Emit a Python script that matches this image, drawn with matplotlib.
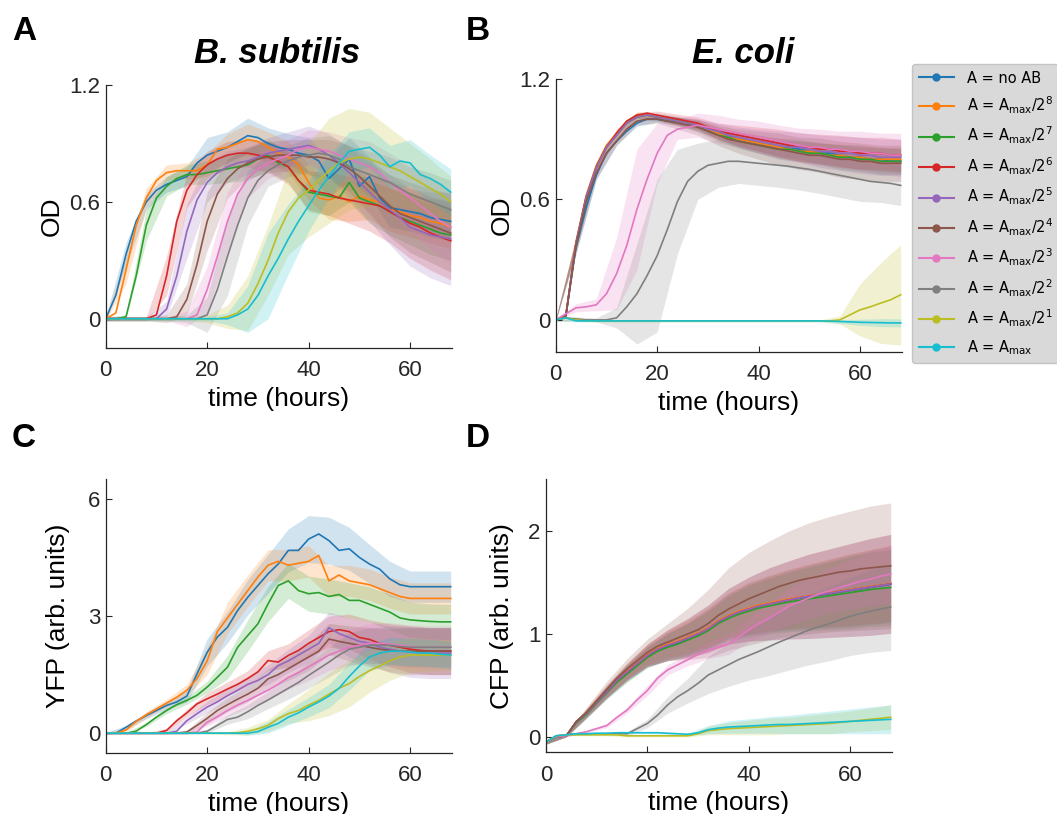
import numpy as np
import matplotlib
matplotlib.use("Agg")
import matplotlib.pyplot as plt
from matplotlib.lines import Line2D

plt.rcParams["font.family"] = ["Liberation Sans", "DejaVu Sans"]

# sample times (hours) of the mean curves and of the shaded spread
hours = [0, 2, 4, 6, 8, 10, 12, 14, 16, 18, 20, 22, 24, 26, 28, 30, 32, 34,
         36, 38, 40, 42, 44, 46, 48, 50, 52, 54, 56, 58, 60, 62, 64, 66, 68]
band_hours = [0, 4, 8, 12, 16, 20, 24, 28, 32, 36, 40, 44, 48, 52, 56, 60, 64, 68]

labels = ["A = no AB",
          "A = A$_{\\mathrm{max}}$/2$^{8}$", "A = A$_{\\mathrm{max}}$/2$^{7}$",
          "A = A$_{\\mathrm{max}}$/2$^{6}$", "A = A$_{\\mathrm{max}}$/2$^{5}$",
          "A = A$_{\\mathrm{max}}$/2$^{4}$", "A = A$_{\\mathrm{max}}$/2$^{3}$",
          "A = A$_{\\mathrm{max}}$/2$^{2}$", "A = A$_{\\mathrm{max}}$/2$^{1}$",
          "A = A$_{\\mathrm{max}}$"]
colors = ["#1f77b4", "#ff7f0e", "#2ca02c", "#d62728", "#9467bd",
          "#8c564b", "#e377c2", "#7f7f7f", "#bcbd22", "#17becf"]

### A: OD, B. subtilis
od_bsub = [
    [0.00,0.12,0.33,0.50,0.60, 0.66,0.69,0.71,0.73,0.80, 0.84,0.86,0.88,0.91,0.94, 0.93,0.90,0.88,0.87,0.85, 0.84,0.81,0.72,0.77,0.82, 0.68,0.73,0.62,0.57,0.56, 0.55,0.54,0.52,0.51,0.50],
    [0.00,0.03,0.25,0.48,0.62, 0.71,0.75,0.76,0.76,0.76, 0.79,0.87,0.88,0.90,0.92, 0.91,0.88,0.85,0.83,0.79, 0.70,0.62,0.61,0.63,0.60, 0.63,0.61,0.60,0.56,0.55, 0.53,0.52,0.50,0.49,0.47],
    [0.00,0.00,0.01,0.22,0.48, 0.62,0.68,0.72,0.74,0.74, 0.75,0.76,0.77,0.78,0.79, 0.82,0.84,0.80,0.78,0.71, 0.65,0.64,0.63,0.62,0.70, 0.62,0.60,0.58,0.55,0.52, 0.50,0.48,0.46,0.44,0.43],
    [0.00,0.00,0.00,0.00,0.00, 0.02,0.22,0.50,0.66,0.74, 0.79,0.82,0.84,0.85,0.85, 0.84,0.83,0.81,0.78,0.71, 0.66,0.65,0.64,0.62,0.61, 0.60,0.59,0.58,0.55,0.52, 0.49,0.47,0.44,0.42,0.40],
    [0.00,0.00,0.00,0.00,0.00, 0.00,0.05,0.22,0.45,0.61, 0.70,0.75,0.78,0.80,0.81, 0.83,0.85,0.86,0.87,0.88, 0.89,0.87,0.84,0.80,0.75, 0.70,0.65,0.60,0.56,0.52, 0.47,0.45,0.43,0.42,0.41],
    [0.00,0.00,0.00,0.00,0.00, 0.00,0.00,0.01,0.10,0.28, 0.50,0.64,0.72,0.77,0.80, 0.82,0.83,0.84,0.84,0.84, 0.83,0.83,0.82,0.80,0.77, 0.73,0.68,0.63,0.58,0.54, 0.52,0.50,0.48,0.46,0.44],
    [0.00,0.00,0.00,0.00,0.00, 0.00,0.00,0.00,0.00,0.02, 0.15,0.32,0.50,0.64,0.72, 0.77,0.80,0.82,0.84,0.87, 0.88,0.87,0.86,0.84,0.82, 0.80,0.78,0.75,0.70,0.66, 0.62,0.58,0.54,0.50,0.47],
    [0.00,0.00,0.00,0.00,0.00, 0.00,0.00,0.00,0.00,0.00, 0.02,0.15,0.32,0.48,0.62, 0.71,0.76,0.79,0.81,0.83, 0.84,0.85,0.84,0.82,0.78, 0.76,0.74,0.72,0.70,0.67, 0.64,0.62,0.60,0.58,0.56],
    [0.00,0.00,0.00,0.00,0.00, 0.00,0.00,0.00,0.00,0.00, 0.00,0.00,0.01,0.03,0.08, 0.18,0.30,0.44,0.55,0.62, 0.66,0.71,0.76,0.80,0.82, 0.83,0.82,0.80,0.78,0.76, 0.73,0.70,0.67,0.64,0.60],
    [0.00,0.00,0.00,0.00,0.00, 0.00,0.00,0.00,0.00,0.00, 0.00,0.00,0.00,0.02,0.05, 0.12,0.22,0.31,0.41,0.50, 0.58,0.66,0.73,0.80,0.86, 0.87,0.88,0.84,0.78,0.81, 0.80,0.74,0.72,0.69,0.65],
]
od_bsub_sd = [
    [0.01,0.06,0.04,0.04,0.05,0.09,0.08,0.09,0.08,0.08,0.09,0.10,0.11,0.10,0.10,0.10,0.10,0.10],
    [0.01,0.07,0.05,0.04,0.04,0.06,0.07,0.08,0.08,0.08,0.09,0.10,0.10,0.10,0.11,0.11,0.11,0.11],
    [0.01,0.01,0.08,0.05,0.05,0.06,0.07,0.08,0.08,0.08,0.10,0.10,0.10,0.11,0.12,0.12,0.13,0.13],
    [0.01,0.01,0.01,0.10,0.09,0.07,0.07,0.07,0.08,0.09,0.10,0.11,0.12,0.14,0.16,0.18,0.19,0.20],
    [0.01,0.01,0.01,0.04,0.14,0.10,0.08,0.07,0.08,0.09,0.10,0.11,0.13,0.15,0.18,0.20,0.22,0.24],
    [0.01,0.01,0.01,0.02,0.08,0.15,0.10,0.08,0.08,0.08,0.09,0.10,0.12,0.14,0.16,0.18,0.19,0.20],
    [0.01,0.01,0.01,0.01,0.04,0.12,0.15,0.10,0.08,0.08,0.09,0.10,0.11,0.13,0.15,0.17,0.18,0.19],
    [0.01,0.01,0.01,0.01,0.02,0.09,0.20,0.14,0.08,0.08,0.09,0.10,0.11,0.12,0.13,0.14,0.15,0.15],
    [0.01,0.01,0.01,0.01,0.01,0.02,0.06,0.14,0.18,0.22,0.24,0.27,0.26,0.24,0.20,0.17,0.15,0.13],
    [0.01,0.01,0.01,0.01,0.01,0.01,0.03,0.12,0.22,0.18,0.13,0.11,0.10,0.10,0.11,0.12,0.12,0.12],
]

### B: OD, E. coli
od_ecoli = [
    [0.00,0.02,0.36,0.56,0.72, 0.83,0.89,0.94,0.98,1.00, 1.00,0.99,0.99,0.98,0.97, 0.95,0.93,0.92,0.90,0.89, 0.88,0.87,0.86,0.86,0.85, 0.84,0.83,0.83,0.82,0.81, 0.81,0.80,0.80,0.79,0.79],
    [0.00,0.02,0.39,0.62,0.77, 0.87,0.93,0.99,1.02,1.02, 1.01,1.00,0.99,0.98,0.97, 0.95,0.93,0.91,0.90,0.89, 0.88,0.87,0.86,0.85,0.84, 0.84,0.83,0.82,0.82,0.81, 0.81,0.80,0.80,0.80,0.80],
    [0.00,0.02,0.38,0.61,0.76, 0.86,0.92,0.98,1.01,1.02, 1.01,1.00,0.99,0.98,0.96, 0.94,0.92,0.91,0.89,0.88, 0.87,0.86,0.85,0.85,0.84, 0.83,0.83,0.82,0.81,0.81, 0.80,0.80,0.79,0.79,0.79],
    [0.00,0.02,0.38,0.61,0.76, 0.86,0.93,0.99,1.02,1.03, 1.02,1.01,1.00,0.99,0.98, 0.96,0.94,0.93,0.92,0.91, 0.90,0.89,0.88,0.87,0.86, 0.86,0.85,0.85,0.84,0.84, 0.83,0.83,0.83,0.82,0.82],
    [0.00,0.02,0.38,0.61,0.76, 0.86,0.92,0.98,1.01,1.02, 1.01,1.00,0.99,0.98,0.97, 0.95,0.94,0.92,0.91,0.90, 0.89,0.88,0.87,0.86,0.86, 0.85,0.84,0.84,0.83,0.83, 0.82,0.82,0.81,0.81,0.81],
    [0.00,0.02,0.37,0.59,0.73, 0.83,0.89,0.95,0.99,1.00, 1.00,0.99,0.98,0.97,0.96, 0.94,0.92,0.90,0.89,0.88, 0.87,0.86,0.85,0.84,0.83, 0.82,0.82,0.81,0.80,0.80, 0.79,0.79,0.78,0.78,0.78],
    [0.00,0.03,0.06,0.065,0.075, 0.13,0.23,0.37,0.55,0.70, 0.83,0.92,0.95,0.96,0.97, 0.96,0.95,0.94,0.93,0.92, 0.91,0.90,0.89,0.88,0.87, 0.86,0.86,0.85,0.85,0.84, 0.84,0.83,0.83,0.82,0.82],
    [0.00,0.01,0.005,0.00,0.00, 0.00,0.01,0.065,0.13,0.22, 0.32,0.45,0.59,0.69,0.74, 0.77,0.78,0.79,0.79,0.785, 0.78,0.775,0.77,0.765,0.757, 0.75,0.74,0.73,0.72,0.71, 0.70,0.69,0.685,0.68,0.67],
    [0.00,0.01,0.00,-0.005,-0.005, -0.005,-0.005,-0.005,-0.005,-0.005, -0.005,-0.005,-0.005,-0.005,-0.005, -0.005,-0.005,-0.005,-0.005,-0.005, -0.005,-0.005,-0.005,-0.005,-0.005, -0.005,-0.005,-0.005,0.00,0.025, 0.05,0.065,0.083,0.10,0.125],
    [0.00,0.01,-0.005,-0.005,-0.005, -0.005,-0.005,-0.005,-0.005,-0.005, -0.005,-0.005,-0.005,-0.005,-0.005, -0.005,-0.005,-0.005,-0.005,-0.005, -0.005,-0.005,-0.005,-0.005,-0.005, -0.005,-0.005,-0.006,-0.008,-0.01, -0.012,-0.013,-0.014,-0.015,-0.015],
]
od_ecoli_sd = [
    [0.005,0.03,0.02,0.02,0.015,0.015,0.02,0.025,0.03,0.035,0.04,0.045,0.05,0.05,0.055,0.06,0.06,0.06],
    [0.005,0.03,0.02,0.02,0.015,0.015,0.02,0.025,0.03,0.035,0.04,0.045,0.05,0.05,0.055,0.06,0.06,0.06],
    [0.005,0.03,0.02,0.02,0.015,0.015,0.02,0.025,0.03,0.035,0.04,0.045,0.05,0.055,0.06,0.06,0.065,0.065],
    [0.005,0.03,0.02,0.02,0.015,0.02,0.025,0.03,0.04,0.05,0.06,0.07,0.07,0.075,0.08,0.08,0.08,0.08],
    [0.005,0.03,0.02,0.02,0.015,0.02,0.025,0.03,0.04,0.05,0.06,0.07,0.075,0.08,0.085,0.09,0.09,0.09],
    [0.005,0.04,0.03,0.02,0.02,0.02,0.03,0.04,0.05,0.06,0.07,0.08,0.08,0.085,0.09,0.09,0.09,0.09],
    [0.005,0.02,0.03,0.18,0.30,0.15,0.05,0.06,0.07,0.07,0.08,0.08,0.085,0.09,0.09,0.10,0.10,0.11],
    [0.005,0.01,0.01,0.05,0.25,0.38,0.26,0.14,0.12,0.11,0.11,0.11,0.11,0.11,0.11,0.11,0.10,0.10],
    [0.005,0.005,0.005,0.005,0.005,0.005,0.005,0.005,0.005,0.005,0.005,0.005,0.005,0.005,0.02,0.13,0.20,0.25],
    [0.005,0.005,0.005,0.005,0.005,0.005,0.005,0.005,0.005,0.005,0.005,0.005,0.005,0.005,0.01,0.015,0.02,0.02],
]

### C: YFP, B. subtilis
yfp_bsub = [
    [0.00,0.00,0.15,0.31,0.45, 0.58,0.71,0.80,0.95,1.52, 2.07,2.46,2.71,3.14,3.48, 3.78,4.08,4.33,4.68,4.68, 4.97,5.10,4.93,4.68,4.72, 4.50,4.33,4.20,3.95,3.80, 3.75,3.75,3.75,3.75,3.75],
    [0.00,0.00,0.08,0.30,0.47, 0.62,0.77,0.92,1.10,1.40, 1.85,2.60,2.95,3.30,3.65, 4.00,4.30,4.40,4.30,4.35, 4.40,4.55,3.90,4.05,3.90, 3.85,3.80,3.70,3.60,3.50, 3.45,3.45,3.45,3.45,3.45],
    [0.00,0.00,0.00,0.05,0.22, 0.41,0.58,0.73,0.84,0.97, 1.18,1.43,1.69,2.20,2.50, 2.80,3.31,3.78,3.90,3.65, 3.57,3.60,3.50,3.55,3.40, 3.40,3.30,3.20,3.10,2.95, 2.90,2.88,2.86,2.85,2.85],
    [0.00,0.00,0.00,0.00,0.00, 0.00,0.07,0.32,0.52,0.75, 0.88,1.00,1.13,1.25,1.40, 1.57,1.86,1.82,1.99,2.12, 2.30,2.45,2.60,2.65,2.60, 2.45,2.40,2.30,2.25,2.20, 2.15,2.12,2.10,2.10,2.10],
    [0.00,0.00,0.00,0.00,0.00, 0.00,0.00,0.05,0.32,0.50, 0.67,0.80,0.96,1.10,1.25, 1.35,1.50,1.73,1.85,2.00, 2.15,2.30,2.70,2.55,2.45, 2.35,2.30,2.20,2.15,2.10, 2.08,2.06,2.05,2.05,2.05],
    [0.00,0.00,0.00,0.00,0.00, 0.00,0.00,0.00,0.03,0.20, 0.38,0.58,0.73,0.87,1.00, 1.15,1.39,1.50,1.65,1.80, 1.95,2.10,2.41,2.35,2.30, 2.25,2.20,2.15,2.12,2.10, 2.10,2.10,2.10,2.10,2.10],
    [0.00,0.00,0.00,0.00,0.00, 0.00,0.00,0.00,0.00,0.03, 0.28,0.42,0.58,0.72,0.84, 0.97,1.10,1.25,1.43,1.55, 1.70,1.85,2.00,2.10,2.20, 2.25,2.30,2.30,2.28,2.25, 2.22,2.20,2.20,2.20,2.20],
    [0.00,0.00,0.00,0.00,0.00, 0.00,0.00,0.00,0.00,0.00, 0.05,0.20,0.35,0.41,0.55, 0.71,0.85,1.00,1.15,1.30, 1.48,1.65,1.82,2.00,2.15, 2.20,2.25,2.25,2.25,2.22, 2.20,2.20,2.20,2.20,2.20],
    [0.00,0.00,0.00,0.00,0.00, 0.00,0.00,0.00,0.00,0.00, 0.00,0.00,0.00,0.01,0.05, 0.11,0.20,0.37,0.50,0.58, 0.72,0.84,1.00,1.15,1.27, 1.45,1.60,1.72,1.85,1.95, 2.00,2.00,2.00,2.00,2.00],
    [0.00,0.00,0.00,0.00,0.00, 0.00,0.00,0.00,0.00,0.00, 0.00,0.00,0.00,0.00,0.00, 0.04,0.15,0.25,0.41,0.52, 0.67,0.80,0.95,1.15,1.45, 1.72,1.95,2.05,2.10,2.10, 2.08,2.05,2.05,2.02,2.00],
]
yfp_bsub_sd = [
    [0.02,0.05,0.08,0.10,0.15,0.35,0.40,0.45,0.50,0.55,0.60,0.60,0.55,0.50,0.45,0.40,0.40,0.40],
    [0.02,0.05,0.08,0.10,0.15,0.35,0.40,0.40,0.40,0.40,0.40,0.40,0.40,0.40,0.40,0.40,0.40,0.40],
    [0.02,0.02,0.05,0.08,0.10,0.15,0.30,0.40,0.45,0.45,0.45,0.45,0.45,0.45,0.45,0.45,0.45,0.45],
    [0.02,0.02,0.02,0.05,0.10,0.15,0.18,0.20,0.25,0.30,0.35,0.40,0.45,0.50,0.55,0.60,0.60,0.60],
    [0.02,0.02,0.02,0.03,0.08,0.15,0.18,0.20,0.25,0.30,0.35,0.40,0.50,0.55,0.60,0.65,0.65,0.65],
    [0.02,0.02,0.02,0.02,0.05,0.15,0.18,0.20,0.25,0.30,0.35,0.40,0.45,0.50,0.55,0.60,0.60,0.60],
    [0.02,0.02,0.02,0.02,0.02,0.10,0.15,0.20,0.25,0.30,0.35,0.40,0.45,0.50,0.55,0.55,0.55,0.55],
    [0.02,0.02,0.02,0.02,0.02,0.05,0.12,0.18,0.22,0.28,0.33,0.38,0.42,0.45,0.48,0.50,0.50,0.50],
    [0.02,0.02,0.02,0.02,0.02,0.02,0.04,0.10,0.15,0.25,0.40,0.55,0.60,0.55,0.50,0.45,0.40,0.40],
    [0.02,0.02,0.02,0.02,0.02,0.02,0.02,0.05,0.15,0.20,0.25,0.30,0.35,0.35,0.35,0.35,0.35,0.35],
]

### D: CFP, E. coli
cfp_ecoli = [
    [-0.05,0.00,0.01,0.14,0.22, 0.33,0.43,0.54,0.62,0.70, 0.78,0.84,0.88,0.91,0.95, 1.00,1.05,1.12,1.17,1.21, 1.24,1.27,1.29,1.31,1.33, 1.345,1.36,1.375,1.39,1.405, 1.42,1.435,1.45,1.465,1.48],
    [-0.05,0.00,0.01,0.15,0.24, 0.35,0.45,0.56,0.64,0.72, 0.80,0.86,0.90,0.93,0.97, 1.01,1.06,1.13,1.18,1.22, 1.25,1.28,1.30,1.32,1.34, 1.355,1.37,1.385,1.40,1.415, 1.43,1.445,1.46,1.475,1.49],
    [-0.05,0.00,0.01,0.14,0.22, 0.33,0.43,0.53,0.61,0.69, 0.77,0.83,0.87,0.90,0.94, 0.98,1.03,1.10,1.15,1.19, 1.22,1.25,1.27,1.29,1.31, 1.325,1.34,1.355,1.37,1.385, 1.40,1.415,1.43,1.44,1.45],
    [-0.05,0.00,0.01,0.15,0.23, 0.34,0.44,0.55,0.63,0.71, 0.79,0.85,0.89,0.92,0.96, 1.00,1.05,1.12,1.17,1.21, 1.24,1.27,1.29,1.31,1.33, 1.35,1.365,1.38,1.395,1.41, 1.425,1.44,1.455,1.47,1.485],
    [-0.05,0.00,0.01,0.15,0.23, 0.34,0.44,0.55,0.63,0.71, 0.79,0.85,0.89,0.92,0.96, 1.00,1.05,1.12,1.17,1.21, 1.24,1.27,1.29,1.31,1.33, 1.35,1.365,1.38,1.395,1.41, 1.425,1.44,1.455,1.47,1.485],
    [-0.05,0.00,0.01,0.15,0.24, 0.35,0.46,0.57,0.66,0.74, 0.82,0.88,0.92,0.96,1.00, 1.04,1.10,1.18,1.24,1.29, 1.34,1.38,1.42,1.46,1.49, 1.52,1.54,1.56,1.58,1.60, 1.61,1.63,1.64,1.65,1.66],
    [-0.05,0.00,0.01,0.03,0.05, 0.08,0.11,0.19,0.26,0.36, 0.45,0.57,0.65,0.70,0.75, 0.80,0.84,0.87,0.90,0.97, 1.04,1.10,1.15,1.21,1.27, 1.31,1.35,1.39,1.42,1.45, 1.48,1.51,1.53,1.56,1.58],
    [-0.05,0.01,0.02,0.03,0.03, 0.03,0.03,0.03,0.03,0.08, 0.13,0.21,0.31,0.39,0.45, 0.52,0.60,0.65,0.70,0.75, 0.79,0.83,0.875,0.92,0.96, 1.00,1.04,1.07,1.10,1.135, 1.17,1.195,1.22,1.24,1.26],
    [-0.05,0.01,0.02,0.02,0.02, 0.02,0.02,0.02,0.01,0.01, 0.01,0.01,0.01,0.01,0.01, 0.03,0.06,0.07,0.08,0.085, 0.09,0.095,0.10,0.105,0.11, 0.115,0.12,0.125,0.13,0.14, 0.15,0.16,0.17,0.18,0.19],
    [-0.05,0.01,0.02,0.03,0.03, 0.035,0.035,0.04,0.04,0.04, 0.04,0.04,0.035,0.03,0.025, 0.04,0.07,0.085,0.095,0.10, 0.105,0.11,0.115,0.12,0.12, 0.125,0.13,0.135,0.14,0.145, 0.15,0.155,0.16,0.165,0.17],
]
cfp_ecoli_sd = [
    [0.02,0.01,0.04,0.06,0.08,0.10,0.13,0.16,0.19,0.22,0.25,0.27,0.29,0.31,0.33,0.35,0.36,0.37],
    [0.02,0.01,0.04,0.06,0.08,0.10,0.13,0.16,0.19,0.22,0.25,0.27,0.29,0.31,0.33,0.35,0.36,0.37],
    [0.02,0.01,0.04,0.06,0.08,0.10,0.13,0.16,0.19,0.22,0.25,0.27,0.29,0.31,0.33,0.35,0.36,0.37],
    [0.02,0.01,0.04,0.06,0.08,0.11,0.15,0.19,0.23,0.27,0.31,0.35,0.38,0.41,0.43,0.45,0.47,0.48],
    [0.02,0.01,0.04,0.06,0.08,0.11,0.15,0.19,0.23,0.27,0.31,0.35,0.38,0.41,0.43,0.45,0.47,0.48],
    [0.02,0.01,0.05,0.08,0.10,0.13,0.18,0.25,0.33,0.40,0.45,0.48,0.51,0.54,0.56,0.58,0.60,0.61],
    [0.02,0.01,0.01,0.02,0.03,0.05,0.05,0.06,0.08,0.10,0.12,0.15,0.18,0.20,0.22,0.24,0.26,0.28],
    [0.02,0.01,0.01,0.01,0.02,0.04,0.08,0.12,0.18,0.21,0.24,0.28,0.31,0.34,0.36,0.38,0.40,0.42],
    [0.02,0.01,0.01,0.01,0.01,0.01,0.01,0.01,0.04,0.06,0.07,0.08,0.08,0.09,0.10,0.10,0.11,0.12],
    [0.02,0.01,0.01,0.01,0.01,0.01,0.01,0.01,0.04,0.06,0.07,0.08,0.09,0.10,0.11,0.12,0.13,0.14],
]

W, H = 1057, 814
fig = plt.figure(figsize=(W / 100, H / 100), dpi=100)
dark = "#262626"


def px_axes(left, right, top, bottom):
    return fig.add_axes([left / W, 1 - bottom / H, (right - left) / W, (bottom - top) / H])


def panel(ax, means, sds, ylim, yticks, yticklabels, ylabel, ypad):
    for mean, sd, c in zip(means, sds, colors):
        m = np.array(mean)[::2]
        s = np.array(sd)
        ax.fill_between(band_hours, m - s, m + s, color=c, alpha=0.2, lw=0)
        ax.plot(hours, mean, color=c, lw=1.2)
    ax.set_xlim(0, 68.2)
    ax.set_ylim(*ylim)
    ax.set_xticks([0, 20, 40, 60])
    ax.set_yticks(yticks)
    ax.set_yticklabels(yticklabels)
    for side in ["top", "right"]:
        ax.spines[side].set_visible(False)
    for side in ["left", "bottom"]:
        ax.spines[side].set_color(dark)
        ax.spines[side].set_linewidth(0.9)
    ax.tick_params(direction="in", length=4, width=0.8, colors=dark, labelsize=16)
    ax.tick_params(axis="x", pad=9)
    ax.tick_params(axis="y", pad=4)
    ax.set_xlabel("time (hours)", fontsize=19, labelpad=4)
    ax.set_ylabel(ylabel, fontsize=19, labelpad=ypad)


axA = px_axes(105.7, 451.7, 85, 348)
panel(axA, od_bsub, od_bsub_sd, (-0.15, 1.2), [0, 0.6, 1.2], ["0", "0.6", "1.2"], "OD", 4)
axB = px_axes(555.7, 901.7, 79, 352)
panel(axB, od_ecoli, od_ecoli_sd, (-0.16, 1.2), [0, 0.6, 1.2], ["0", "0.6", "1.2"], "OD", 4)
axC = px_axes(105.7, 451.7, 479.3, 752.7)
panel(axC, yfp_bsub, yfp_bsub_sd, (-0.5, 6.5), [0, 3, 6], ["0", "3", "6"], "YFP (arb. units)", 13)
axD = px_axes(546, 891.7, 479.3, 752.3)
panel(axD, cfp_ecoli, cfp_ecoli_sd, (-0.15, 2.5), [0, 1, 2], ["0", "1", "2"], "CFP (arb. units)", 10)

# titles and panel letters
fig.text(277 / W, 1 - 63 / H, "B. subtilis", fontsize=25, fontweight="bold",
         fontstyle="italic", ha="center", va="baseline")
fig.text(743 / W, 1 - 63 / H, "E. coli", fontsize=25, fontweight="bold",
         fontstyle="italic", ha="center", va="baseline")
for letter, x, y in [("A", 12, 40), ("B", 466, 40), ("C", 12, 447), ("D", 466, 447)]:
    fig.text(x / W, 1 - y / H, letter, fontsize=24, fontweight="bold",
             ha="left", va="baseline")

handles = [Line2D([], [], color=c, lw=1.5, marker="o", markersize=5) for c in colors]
fig.legend(handles, labels, loc="upper left", bbox_to_anchor=(912 / W, 1 - 64 / H),
           borderaxespad=0, prop={"family": "DejaVu Sans", "size": 10.5},
           facecolor="#d9d9d9", edgecolor="#c4c4c4", framealpha=1,
           handlelength=2.4, handletextpad=0.9, labelspacing=0.62,
           borderpad=0.45, numpoints=1)

fig.savefig("out.png", dpi=100)
